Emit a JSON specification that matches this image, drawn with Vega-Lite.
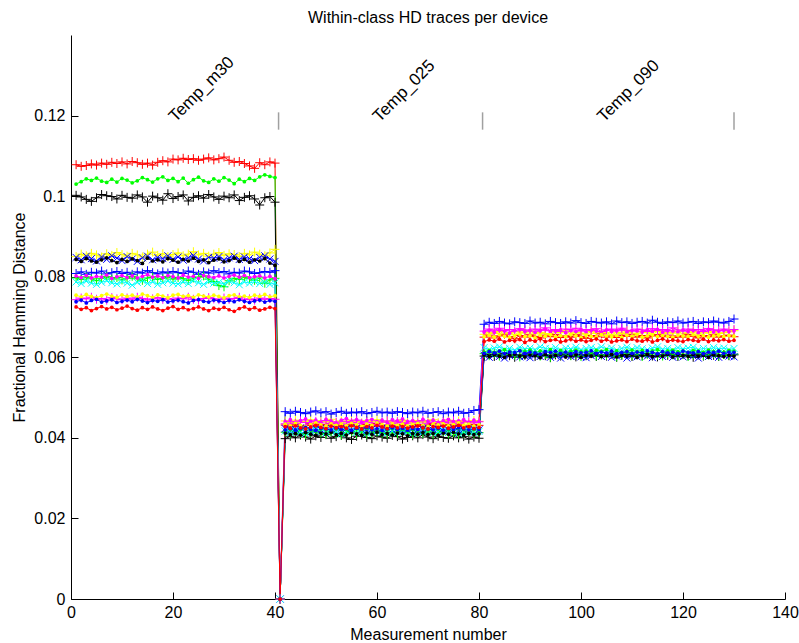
{
"$schema": "https://vega.github.io/schema/vega-lite/v6.json",
"width": 714, "height": 564,
"autosize": {"type": "none"},
"padding": {"left": 71, "top": 35, "right": 14, "bottom": 44},
"background": "white",
"config": {"font": "Liberation Sans", "view": {"stroke": null},
 "axis": {"grid": false, "tickSize": -7, "tickColor": "black", "domainColor": "black", "labelColor": "black", "labelFontSize": 16, "labelFont": "Liberation Sans", "labelFlush": false, "labelOverlap": false, "titleFontSize": 16, "titleFontWeight": "normal", "titleFont": "Liberation Sans", "titleColor": "black", "titleBaseline": "alphabetic", "titleAlign": "center"},
 "axisX": {"labelPadding": 12, "titleX": 357, "titleY": 40},
 "axisY": {"labelPadding": 13, "titleX": -47, "titleY": 282, "titleAngle": 270}},
"title": {"text": "Within-class HD traces per device", "fontSize": 16, "fontWeight": "normal", "font": "Liberation Sans", "color": "black", "anchor": "middle", "baseline": "alphabetic", "offset": -4},
"datasets": {
"hd": [
{"x":1,"a":0.1078,"b":0.1030,"c":0.1002,"d":0.0850,"e":0.0843,"f":0.0848,"g":0.0808,"h":0.0802,"i":0.0797,"j":0.0787,"k":0.0754,"l":0.0743,"m":0.0738,"n":0.0725},
{"x":2,"a":0.1074,"b":0.1036,"c":0.0998,"d":0.0856,"e":0.0838,"f":0.0842,"g":0.0812,"h":0.0798,"i":0.0793,"j":0.0783,"k":0.0750,"l":0.0747,"m":0.0742,"n":0.0719},
{"x":3,"a":0.1076,"b":0.1043,"c":0.0992,"d":0.0852,"e":0.0845,"f":0.0851,"g":0.0806,"h":0.0803,"i":0.0799,"j":0.0789,"k":0.0756,"l":0.0745,"m":0.0735,"n":0.0723},
{"x":4,"a":0.1080,"b":0.1039,"c":0.0987,"d":0.0858,"e":0.0839,"f":0.0845,"g":0.0811,"h":0.0797,"i":0.0795,"j":0.0784,"k":0.0751,"l":0.0749,"m":0.0741,"n":0.0716},
{"x":5,"a":0.1077,"b":0.1045,"c":0.0996,"d":0.0854,"e":0.0836,"f":0.0839,"g":0.0809,"h":0.0801,"i":0.0790,"j":0.0781,"k":0.0748,"l":0.0744,"m":0.0744,"n":0.0721},
{"x":6,"a":0.1082,"b":0.1037,"c":0.1004,"d":0.0849,"e":0.0842,"f":0.0849,"g":0.0814,"h":0.0799,"i":0.0796,"j":0.0786,"k":0.0753,"l":0.0746,"m":0.0737,"n":0.0726},
{"x":7,"a":0.1079,"b":0.1034,"c":0.1001,"d":0.0857,"e":0.0847,"f":0.0843,"g":0.0807,"h":0.0804,"i":0.0800,"j":0.0790,"k":0.0757,"l":0.0742,"m":0.0740,"n":0.0720},
{"x":8,"a":0.1084,"b":0.1042,"c":0.0999,"d":0.0853,"e":0.0840,"f":0.0852,"g":0.0810,"h":0.0796,"i":0.0794,"j":0.0785,"k":0.0752,"l":0.0748,"m":0.0743,"n":0.0724},
{"x":9,"a":0.1081,"b":0.1035,"c":0.0993,"d":0.0860,"e":0.0835,"f":0.0846,"g":0.0813,"h":0.0800,"i":0.0798,"j":0.0782,"k":0.0749,"l":0.0745,"m":0.0736,"n":0.0718},
{"x":10,"a":0.1085,"b":0.1044,"c":0.1002,"d":0.0855,"e":0.0843,"f":0.0840,"g":0.0808,"h":0.0803,"i":0.0792,"j":0.0788,"k":0.0755,"l":0.0743,"m":0.0739,"n":0.0722},
{"x":11,"a":0.1080,"b":0.1040,"c":0.0997,"d":0.0851,"e":0.0838,"f":0.0850,"g":0.0811,"h":0.0798,"i":0.0796,"j":0.0784,"k":0.0751,"l":0.0747,"m":0.0742,"n":0.0727},
{"x":12,"a":0.1086,"b":0.1033,"c":0.0995,"d":0.0858,"e":0.0844,"f":0.0844,"g":0.0806,"h":0.0802,"i":0.0801,"j":0.0779,"k":0.0754,"l":0.0744,"m":0.0738,"n":0.0721},
{"x":13,"a":0.1083,"b":0.1038,"c":0.1003,"d":0.0854,"e":0.0840,"f":0.0838,"g":0.0812,"h":0.0797,"i":0.0795,"j":0.0786,"k":0.0750,"l":0.0749,"m":0.0744,"n":0.0717},
{"x":14,"a":0.1079,"b":0.1046,"c":0.0998,"d":0.0849,"e":0.0833,"f":0.0847,"g":0.0809,"h":0.0801,"i":0.0791,"j":0.0790,"k":0.0757,"l":0.0746,"m":0.0740,"n":0.0723},
{"x":15,"a":0.1082,"b":0.1041,"c":0.0985,"d":0.0856,"e":0.0846,"f":0.0851,"g":0.0815,"h":0.0805,"i":0.0797,"j":0.0783,"k":0.0753,"l":0.0742,"m":0.0736,"n":0.0719},
{"x":16,"a":0.1077,"b":0.1035,"c":0.1000,"d":0.0861,"e":0.0839,"f":0.0842,"g":0.0810,"h":0.0799,"i":0.0799,"j":0.0787,"k":0.0749,"l":0.0745,"m":0.0741,"n":0.0725},
{"x":17,"a":0.1084,"b":0.1043,"c":0.0996,"d":0.0853,"e":0.0842,"f":0.0848,"g":0.0807,"h":0.0802,"i":0.0793,"j":0.0781,"k":0.0755,"l":0.0748,"m":0.0739,"n":0.0720},
{"x":18,"a":0.1088,"b":0.1048,"c":0.0990,"d":0.0857,"e":0.0837,"f":0.0845,"g":0.0812,"h":0.0798,"i":0.0796,"j":0.0785,"k":0.0752,"l":0.0744,"m":0.0743,"n":0.0716},
{"x":19,"a":0.1085,"b":0.1039,"c":0.1006,"d":0.0850,"e":0.0845,"f":0.0852,"g":0.0809,"h":0.0803,"i":0.0800,"j":0.0789,"k":0.0748,"l":0.0746,"m":0.0737,"n":0.0722},
{"x":20,"a":0.1092,"b":0.1044,"c":0.0994,"d":0.0855,"e":0.0841,"f":0.0843,"g":0.0813,"h":0.0800,"i":0.0794,"j":0.0784,"k":0.0754,"l":0.0743,"m":0.0740,"n":0.0726},
{"x":21,"a":0.1090,"b":0.1036,"c":0.0999,"d":0.0859,"e":0.0836,"f":0.0849,"g":0.0810,"h":0.0797,"i":0.0798,"j":0.0782,"k":0.0756,"l":0.0747,"m":0.0742,"n":0.0719},
{"x":22,"a":0.1094,"b":0.1045,"c":0.1003,"d":0.0852,"e":0.0843,"f":0.0841,"g":0.0808,"h":0.0804,"i":0.0795,"j":0.0787,"k":0.0751,"l":0.0745,"m":0.0738,"n":0.0723},
{"x":23,"a":0.1091,"b":0.1032,"c":0.0988,"d":0.0856,"e":0.0839,"f":0.0847,"g":0.0814,"h":0.0799,"i":0.0791,"j":0.0783,"k":0.0753,"l":0.0749,"m":0.0735,"n":0.0718},
{"x":24,"a":0.1093,"b":0.1041,"c":0.0997,"d":0.0862,"e":0.0846,"f":0.0853,"g":0.0811,"h":0.0801,"i":0.0797,"j":0.0790,"k":0.0749,"l":0.0744,"m":0.0741,"n":0.0721},
{"x":25,"a":0.1089,"b":0.1047,"c":0.1001,"d":0.0854,"e":0.0838,"f":0.0844,"g":0.0806,"h":0.0796,"i":0.0799,"j":0.0785,"k":0.0755,"l":0.0742,"m":0.0743,"n":0.0725},
{"x":26,"a":0.1092,"b":0.1038,"c":0.0995,"d":0.0858,"e":0.0842,"f":0.0839,"g":0.0812,"h":0.0803,"i":0.0802,"j":0.0781,"k":0.0752,"l":0.0746,"m":0.0739,"n":0.0720},
{"x":27,"a":0.1095,"b":0.1034,"c":0.1004,"d":0.0851,"e":0.0835,"f":0.0848,"g":0.0809,"h":0.0800,"i":0.0794,"j":0.0788,"k":0.0750,"l":0.0748,"m":0.0737,"n":0.0716},
{"x":28,"a":0.1090,"b":0.1043,"c":0.0998,"d":0.0856,"e":0.0841,"f":0.0846,"g":0.0815,"h":0.0798,"i":0.0788,"j":0.0784,"k":0.0754,"l":0.0745,"m":0.0742,"n":0.0722},
{"x":29,"a":0.1093,"b":0.1037,"c":0.0992,"d":0.0860,"e":0.0844,"f":0.0850,"g":0.0810,"h":0.0802,"i":0.0778,"j":0.0786,"k":0.0751,"l":0.0743,"m":0.0740,"n":0.0719},
{"x":30,"a":0.1097,"b":0.1046,"c":0.1000,"d":0.0853,"e":0.0837,"f":0.0842,"g":0.0813,"h":0.0797,"i":0.0775,"j":0.0782,"k":0.0748,"l":0.0747,"m":0.0736,"n":0.0724},
{"x":31,"a":0.1089,"b":0.1040,"c":0.0996,"d":0.0857,"e":0.0840,"f":0.0847,"g":0.0807,"h":0.0801,"i":0.0790,"j":0.0789,"k":0.0753,"l":0.0744,"m":0.0741,"n":0.0718},
{"x":32,"a":0.1084,"b":0.1031,"c":0.1003,"d":0.0855,"e":0.0846,"f":0.0851,"g":0.0811,"h":0.0804,"i":0.0796,"j":0.0785,"k":0.0755,"l":0.0746,"m":0.0738,"n":0.0714},
{"x":33,"a":0.1086,"b":0.1042,"c":0.0989,"d":0.0850,"e":0.0838,"f":0.0843,"g":0.0809,"h":0.0799,"i":0.0793,"j":0.0780,"k":0.0750,"l":0.0749,"m":0.0743,"n":0.0721},
{"x":34,"a":0.1081,"b":0.1036,"c":0.0997,"d":0.0858,"e":0.0843,"f":0.0849,"g":0.0814,"h":0.0803,"i":0.0799,"j":0.0787,"k":0.0752,"l":0.0743,"m":0.0739,"n":0.0725},
{"x":35,"a":0.1075,"b":0.1044,"c":0.1001,"d":0.0854,"e":0.0836,"f":0.0845,"g":0.0812,"h":0.0798,"i":0.0795,"j":0.0784,"k":0.0749,"l":0.0745,"m":0.0736,"n":0.0719},
{"x":36,"a":0.1069,"b":0.1039,"c":0.0993,"d":0.0861,"e":0.0842,"f":0.0840,"g":0.0808,"h":0.0800,"i":0.0791,"j":0.0788,"k":0.0754,"l":0.0742,"m":0.0740,"n":0.0723},
{"x":37,"a":0.1083,"b":0.1048,"c":0.0978,"d":0.0856,"e":0.0839,"f":0.0848,"g":0.0810,"h":0.0802,"i":0.0797,"j":0.0783,"k":0.0751,"l":0.0747,"m":0.0742,"n":0.0717},
{"x":38,"a":0.1078,"b":0.1053,"c":0.0996,"d":0.0852,"e":0.0845,"f":0.0852,"g":0.0813,"h":0.0797,"i":0.0784,"j":0.0786,"k":0.0756,"l":0.0744,"m":0.0737,"n":0.0720},
{"x":39,"a":0.1085,"b":0.1049,"c":0.0999,"d":0.0859,"e":0.0834,"f":0.0844,"g":0.0811,"h":0.0801,"i":0.0792,"j":0.0781,"k":0.0750,"l":0.0746,"m":0.0741,"n":0.0724},
{"x":40,"a":0.1082,"b":0.1046,"c":0.0985,"d":0.0868,"e":0.0828,"f":0.0838,"g":0.0815,"h":0.0795,"i":0.0796,"j":0.0785,"k":0.0753,"l":0.0744,"m":0.0739,"n":0.0721},
{"x":41,"a":0,"b":0,"c":0,"d":0,"e":0,"f":0,"g":0,"h":0,"i":0,"j":0,"k":0,"l":0,"m":0,"n":0},
{"x":42,"a":0.0432,"b":0.0418,"c":0.0398,"d":0.0442,"e":0.0412,"f":0.0423,"g":0.0465,"h":0.0440,"i":0.0414,"j":0.0417,"k":0.0434,"l":0.0435,"m":0.0420,"n":0.0428},
{"x":43,"a":0.0428,"b":0.0422,"c":0.0404,"d":0.0438,"e":0.0408,"f":0.0418,"g":0.0461,"h":0.0445,"i":0.0410,"j":0.0413,"k":0.0430,"l":0.0440,"m":0.0424,"n":0.0424},
{"x":44,"a":0.0434,"b":0.0417,"c":0.0400,"d":0.0444,"e":0.0411,"f":0.0421,"g":0.0466,"h":0.0438,"i":0.0416,"j":0.0419,"k":0.0436,"l":0.0436,"m":0.0419,"n":0.0430},
{"x":45,"a":0.0429,"b":0.0421,"c":0.0407,"d":0.0439,"e":0.0407,"f":0.0425,"g":0.0463,"h":0.0443,"i":0.0411,"j":0.0414,"k":0.0431,"l":0.0442,"m":0.0423,"n":0.0425},
{"x":46,"a":0.0431,"b":0.0424,"c":0.0402,"d":0.0441,"e":0.0413,"f":0.0419,"g":0.0460,"h":0.0447,"i":0.0408,"j":0.0411,"k":0.0428,"l":0.0438,"m":0.0426,"n":0.0422},
{"x":47,"a":0.0435,"b":0.0419,"c":0.0397,"d":0.0445,"e":0.0409,"f":0.0416,"g":0.0464,"h":0.0441,"i":0.0413,"j":0.0416,"k":0.0433,"l":0.0434,"m":0.0421,"n":0.0427},
{"x":48,"a":0.0427,"b":0.0416,"c":0.0405,"d":0.0437,"e":0.0406,"f":0.0422,"g":0.0467,"h":0.0444,"i":0.0417,"j":0.0420,"k":0.0437,"l":0.0441,"m":0.0418,"n":0.0431},
{"x":49,"a":0.0433,"b":0.0422,"c":0.0401,"d":0.0443,"e":0.0412,"f":0.0420,"g":0.0462,"h":0.0439,"i":0.0412,"j":0.0415,"k":0.0432,"l":0.0437,"m":0.0424,"n":0.0426},
{"x":50,"a":0.0430,"b":0.0420,"c":0.0408,"d":0.0440,"e":0.0410,"f":0.0424,"g":0.0465,"h":0.0446,"i":0.0409,"j":0.0412,"k":0.0429,"l":0.0443,"m":0.0422,"n":0.0423},
{"x":51,"a":0.0436,"b":0.0418,"c":0.0399,"d":0.0446,"e":0.0414,"f":0.0418,"g":0.0459,"h":0.0442,"i":0.0415,"j":0.0418,"k":0.0435,"l":0.0436,"m":0.0420,"n":0.0429},
{"x":52,"a":0.0429,"b":0.0423,"c":0.0403,"d":0.0438,"e":0.0408,"f":0.0421,"g":0.0463,"h":0.0437,"i":0.0411,"j":0.0414,"k":0.0431,"l":0.0439,"m":0.0425,"n":0.0425},
{"x":53,"a":0.0432,"b":0.0419,"c":0.0406,"d":0.0442,"e":0.0411,"f":0.0417,"g":0.0466,"h":0.0444,"i":0.0407,"j":0.0410,"k":0.0434,"l":0.0435,"m":0.0421,"n":0.0428},
{"x":54,"a":0.0428,"b":0.0421,"c":0.0400,"d":0.0439,"e":0.0407,"f":0.0423,"g":0.0461,"h":0.0448,"i":0.0413,"j":0.0416,"k":0.0430,"l":0.0441,"m":0.0423,"n":0.0424},
{"x":55,"a":0.0434,"b":0.0417,"c":0.0396,"d":0.0444,"e":0.0413,"f":0.0419,"g":0.0464,"h":0.0441,"i":0.0416,"j":0.0419,"k":0.0436,"l":0.0438,"m":0.0419,"n":0.0430},
{"x":56,"a":0.0431,"b":0.0422,"c":0.0404,"d":0.0441,"e":0.0410,"f":0.0425,"g":0.0462,"h":0.0445,"i":0.0410,"j":0.0413,"k":0.0432,"l":0.0444,"m":0.0424,"n":0.0426},
{"x":57,"a":0.0427,"b":0.0420,"c":0.0407,"d":0.0437,"e":0.0406,"f":0.0420,"g":0.0465,"h":0.0439,"i":0.0414,"j":0.0417,"k":0.0428,"l":0.0436,"m":0.0422,"n":0.0422},
{"x":58,"a":0.0433,"b":0.0424,"c":0.0401,"d":0.0443,"e":0.0412,"f":0.0418,"g":0.0460,"h":0.0443,"i":0.0408,"j":0.0411,"k":0.0434,"l":0.0440,"m":0.0426,"n":0.0428},
{"x":59,"a":0.0430,"b":0.0418,"c":0.0398,"d":0.0440,"e":0.0409,"f":0.0422,"g":0.0463,"h":0.0446,"i":0.0412,"j":0.0415,"k":0.0431,"l":0.0437,"m":0.0420,"n":0.0425},
{"x":60,"a":0.0435,"b":0.0421,"c":0.0405,"d":0.0445,"e":0.0414,"f":0.0416,"g":0.0466,"h":0.0440,"i":0.0415,"j":0.0418,"k":0.0437,"l":0.0433,"m":0.0423,"n":0.0431},
{"x":61,"a":0.0429,"b":0.0416,"c":0.0402,"d":0.0438,"e":0.0408,"f":0.0421,"g":0.0462,"h":0.0444,"i":0.0411,"j":0.0414,"k":0.0433,"l":0.0439,"m":0.0418,"n":0.0427},
{"x":62,"a":0.0432,"b":0.0420,"c":0.0399,"d":0.0442,"e":0.0411,"f":0.0424,"g":0.0464,"h":0.0438,"i":0.0409,"j":0.0412,"k":0.0429,"l":0.0442,"m":0.0422,"n":0.0423},
{"x":63,"a":0.0428,"b":0.0423,"c":0.0406,"d":0.0439,"e":0.0407,"f":0.0419,"g":0.0461,"h":0.0445,"i":0.0414,"j":0.0417,"k":0.0435,"l":0.0436,"m":0.0425,"n":0.0429},
{"x":64,"a":0.0431,"b":0.0419,"c":0.0403,"d":0.0441,"e":0.0412,"f":0.0422,"g":0.0465,"h":0.0442,"i":0.0410,"j":0.0413,"k":0.0431,"l":0.0440,"m":0.0421,"n":0.0425},
{"x":65,"a":0.0434,"b":0.0422,"c":0.0397,"d":0.0444,"e":0.0410,"f":0.0417,"g":0.0463,"h":0.0447,"i":0.0417,"j":0.0419,"k":0.0434,"l":0.0438,"m":0.0424,"n":0.0428},
{"x":66,"a":0.0430,"b":0.0417,"c":0.0401,"d":0.0440,"e":0.0405,"f":0.0420,"g":0.0460,"h":0.0440,"i":0.0412,"j":0.0415,"k":0.0430,"l":0.0435,"m":0.0419,"n":0.0424},
{"x":67,"a":0.0427,"b":0.0421,"c":0.0405,"d":0.0437,"e":0.0411,"f":0.0423,"g":0.0464,"h":0.0443,"i":0.0408,"j":0.0411,"k":0.0433,"l":0.0441,"m":0.0423,"n":0.0427},
{"x":68,"a":0.0433,"b":0.0419,"c":0.0400,"d":0.0443,"e":0.0409,"f":0.0418,"g":0.0462,"h":0.0439,"i":0.0413,"j":0.0416,"k":0.0436,"l":0.0437,"m":0.0421,"n":0.0430},
{"x":69,"a":0.0429,"b":0.0424,"c":0.0408,"d":0.0439,"e":0.0413,"f":0.0421,"g":0.0466,"h":0.0446,"i":0.0411,"j":0.0414,"k":0.0431,"l":0.0443,"m":0.0426,"n":0.0425},
{"x":70,"a":0.0432,"b":0.0420,"c":0.0402,"d":0.0442,"e":0.0408,"f":0.0425,"g":0.0461,"h":0.0441,"i":0.0415,"j":0.0418,"k":0.0428,"l":0.0436,"m":0.0422,"n":0.0422},
{"x":71,"a":0.0435,"b":0.0418,"c":0.0398,"d":0.0445,"e":0.0411,"f":0.0419,"g":0.0463,"h":0.0444,"i":0.0409,"j":0.0412,"k":0.0434,"l":0.0439,"m":0.0420,"n":0.0428},
{"x":72,"a":0.0428,"b":0.0422,"c":0.0404,"d":0.0438,"e":0.0406,"f":0.0422,"g":0.0465,"h":0.0438,"i":0.0412,"j":0.0415,"k":0.0432,"l":0.0434,"m":0.0424,"n":0.0426},
{"x":73,"a":0.0431,"b":0.0417,"c":0.0401,"d":0.0441,"e":0.0412,"f":0.0416,"g":0.0460,"h":0.0443,"i":0.0416,"j":0.0419,"k":0.0435,"l":0.0440,"m":0.0419,"n":0.0429},
{"x":74,"a":0.0434,"b":0.0421,"c":0.0399,"d":0.0444,"e":0.0409,"f":0.0420,"g":0.0464,"h":0.0446,"i":0.0410,"j":0.0413,"k":0.0430,"l":0.0438,"m":0.0423,"n":0.0424},
{"x":75,"a":0.0429,"b":0.0419,"c":0.0405,"d":0.0439,"e":0.0414,"f":0.0424,"g":0.0462,"h":0.0440,"i":0.0413,"j":0.0416,"k":0.0433,"l":0.0442,"m":0.0421,"n":0.0427},
{"x":76,"a":0.0432,"b":0.0423,"c":0.0400,"d":0.0442,"e":0.0410,"f":0.0418,"g":0.0466,"h":0.0442,"i":0.0408,"j":0.0411,"k":0.0437,"l":0.0436,"m":0.0425,"n":0.0431},
{"x":77,"a":0.0430,"b":0.0420,"c":0.0403,"d":0.0440,"e":0.0407,"f":0.0421,"g":0.0461,"h":0.0445,"i":0.0412,"j":0.0415,"k":0.0431,"l":0.0439,"m":0.0422,"n":0.0425},
{"x":78,"a":0.0427,"b":0.0418,"c":0.0397,"d":0.0437,"e":0.0411,"f":0.0419,"g":0.0463,"h":0.0439,"i":0.0415,"j":0.0418,"k":0.0434,"l":0.0441,"m":0.0420,"n":0.0428},
{"x":79,"a":0.0433,"b":0.0421,"c":0.0402,"d":0.0443,"e":0.0408,"f":0.0423,"g":0.0468,"h":0.0444,"i":0.0410,"j":0.0413,"k":0.0429,"l":0.0437,"m":0.0423,"n":0.0423},
{"x":80,"a":0.0431,"b":0.0419,"c":0.0399,"d":0.0441,"e":0.0410,"f":0.0420,"g":0.0470,"h":0.0441,"i":0.0413,"j":0.0416,"k":0.0432,"l":0.0440,"m":0.0421,"n":0.0426},
{"x":81,"a":0.0650,"b":0.0613,"c":0.0603,"d":0.0657,"e":0.0606,"f":0.0605,"g":0.0682,"h":0.0663,"i":0.0609,"j":0.0624,"k":0.0651,"l":0.0665,"m":0.0610,"n":0.0639},
{"x":82,"a":0.0655,"b":0.0617,"c":0.0607,"d":0.0662,"e":0.0602,"f":0.0600,"g":0.0687,"h":0.0667,"i":0.0604,"j":0.0619,"k":0.0655,"l":0.0670,"m":0.0614,"n":0.0643},
{"x":83,"a":0.0648,"b":0.0612,"c":0.0602,"d":0.0659,"e":0.0607,"f":0.0606,"g":0.0684,"h":0.0662,"i":0.0610,"j":0.0623,"k":0.0650,"l":0.0667,"m":0.0611,"n":0.0640},
{"x":84,"a":0.0653,"b":0.0616,"c":0.0606,"d":0.0664,"e":0.0603,"f":0.0602,"g":0.0689,"h":0.0668,"i":0.0603,"j":0.0626,"k":0.0656,"l":0.0672,"m":0.0615,"n":0.0645},
{"x":85,"a":0.0657,"b":0.0619,"c":0.0609,"d":0.0658,"e":0.0600,"f":0.0598,"g":0.0685,"h":0.0665,"i":0.0607,"j":0.0620,"k":0.0652,"l":0.0666,"m":0.0609,"n":0.0638},
{"x":86,"a":0.0651,"b":0.0614,"c":0.0604,"d":0.0661,"e":0.0605,"f":0.0604,"g":0.0683,"h":0.0660,"i":0.0612,"j":0.0622,"k":0.0649,"l":0.0669,"m":0.0613,"n":0.0642},
{"x":87,"a":0.0646,"b":0.0611,"c":0.0600,"d":0.0656,"e":0.0608,"f":0.0607,"g":0.0688,"h":0.0666,"i":0.0605,"j":0.0618,"k":0.0654,"l":0.0664,"m":0.0612,"n":0.0641},
{"x":88,"a":0.0654,"b":0.0617,"c":0.0606,"d":0.0663,"e":0.0603,"f":0.0601,"g":0.0686,"h":0.0669,"i":0.0601,"j":0.0625,"k":0.0657,"l":0.0671,"m":0.0616,"n":0.0644},
{"x":89,"a":0.0650,"b":0.0615,"c":0.0605,"d":0.0660,"e":0.0601,"f":0.0603,"g":0.0684,"h":0.0664,"i":0.0608,"j":0.0621,"k":0.0651,"l":0.0668,"m":0.0610,"n":0.0637},
{"x":90,"a":0.0656,"b":0.0618,"c":0.0608,"d":0.0665,"e":0.0606,"f":0.0599,"g":0.0690,"h":0.0667,"i":0.0606,"j":0.0623,"k":0.0653,"l":0.0665,"m":0.0613,"n":0.0643},
{"x":91,"a":0.0652,"b":0.0612,"c":0.0602,"d":0.0658,"e":0.0604,"f":0.0605,"g":0.0685,"h":0.0662,"i":0.0610,"j":0.0619,"k":0.0648,"l":0.0670,"m":0.0611,"n":0.0640},
{"x":92,"a":0.0648,"b":0.0616,"c":0.0607,"d":0.0662,"e":0.0599,"f":0.0602,"g":0.0687,"h":0.0666,"i":0.0603,"j":0.0626,"k":0.0655,"l":0.0667,"m":0.0608,"n":0.0646},
{"x":93,"a":0.0655,"b":0.0614,"c":0.0604,"d":0.0659,"e":0.0607,"f":0.0607,"g":0.0683,"h":0.0670,"i":0.0607,"j":0.0622,"k":0.0652,"l":0.0673,"m":0.0614,"n":0.0639},
{"x":94,"a":0.0651,"b":0.0619,"c":0.0599,"d":0.0656,"e":0.0602,"f":0.0600,"g":0.0689,"h":0.0663,"i":0.0600,"j":0.0620,"k":0.0656,"l":0.0666,"m":0.0612,"n":0.0642},
{"x":95,"a":0.0657,"b":0.0613,"c":0.0606,"d":0.0663,"e":0.0605,"f":0.0604,"g":0.0686,"h":0.0665,"i":0.0609,"j":0.0624,"k":0.0650,"l":0.0669,"m":0.0615,"n":0.0644},
{"x":96,"a":0.0649,"b":0.0617,"c":0.0603,"d":0.0661,"e":0.0608,"f":0.0598,"g":0.0684,"h":0.0668,"i":0.0605,"j":0.0618,"k":0.0654,"l":0.0664,"m":0.0610,"n":0.0638},
{"x":97,"a":0.0653,"b":0.0611,"c":0.0608,"d":0.0666,"e":0.0601,"f":0.0606,"g":0.0688,"h":0.0661,"i":0.0611,"j":0.0623,"k":0.0651,"l":0.0670,"m":0.0613,"n":0.0641},
{"x":98,"a":0.0650,"b":0.0615,"c":0.0605,"d":0.0658,"e":0.0604,"f":0.0602,"g":0.0685,"h":0.0666,"i":0.0604,"j":0.0621,"k":0.0657,"l":0.0668,"m":0.0609,"n":0.0645},
{"x":99,"a":0.0656,"b":0.0618,"c":0.0601,"d":0.0662,"e":0.0606,"f":0.0605,"g":0.0691,"h":0.0664,"i":0.0608,"j":0.0625,"k":0.0653,"l":0.0672,"m":0.0614,"n":0.0640},
{"x":100,"a":0.0652,"b":0.0614,"c":0.0607,"d":0.0660,"e":0.0600,"f":0.0601,"g":0.0686,"h":0.0669,"i":0.0602,"j":0.0619,"k":0.0649,"l":0.0665,"m":0.0611,"n":0.0643},
{"x":101,"a":0.0647,"b":0.0616,"c":0.0604,"d":0.0657,"e":0.0605,"f":0.0599,"g":0.0684,"h":0.0663,"i":0.0606,"j":0.0622,"k":0.0655,"l":0.0669,"m":0.0612,"n":0.0639},
{"x":102,"a":0.0654,"b":0.0612,"c":0.0609,"d":0.0664,"e":0.0603,"f":0.0604,"g":0.0689,"h":0.0667,"i":0.0610,"j":0.0624,"k":0.0652,"l":0.0667,"m":0.0616,"n":0.0642},
{"x":103,"a":0.0651,"b":0.0617,"c":0.0602,"d":0.0659,"e":0.0608,"f":0.0607,"g":0.0687,"h":0.0665,"i":0.0603,"j":0.0620,"k":0.0650,"l":0.0671,"m":0.0610,"n":0.0646},
{"x":104,"a":0.0658,"b":0.0615,"c":0.0606,"d":0.0663,"e":0.0602,"f":0.0602,"g":0.0685,"h":0.0661,"i":0.0607,"j":0.0626,"k":0.0656,"l":0.0664,"m":0.0613,"n":0.0640},
{"x":105,"a":0.0650,"b":0.0619,"c":0.0603,"d":0.0661,"e":0.0604,"f":0.0605,"g":0.0688,"h":0.0668,"i":0.0605,"j":0.0621,"k":0.0653,"l":0.0668,"m":0.0611,"n":0.0644},
{"x":106,"a":0.0653,"b":0.0613,"c":0.0608,"d":0.0656,"e":0.0607,"f":0.0600,"g":0.0683,"h":0.0664,"i":0.0609,"j":0.0623,"k":0.0651,"l":0.0670,"m":0.0615,"n":0.0638},
{"x":107,"a":0.0649,"b":0.0616,"c":0.0600,"d":0.0662,"e":0.0601,"f":0.0603,"g":0.0690,"h":0.0666,"i":0.0601,"j":0.0618,"k":0.0654,"l":0.0666,"m":0.0609,"n":0.0641},
{"x":108,"a":0.0655,"b":0.0611,"c":0.0605,"d":0.0659,"e":0.0605,"f":0.0606,"g":0.0686,"h":0.0670,"i":0.0606,"j":0.0622,"k":0.0649,"l":0.0672,"m":0.0612,"n":0.0643},
{"x":109,"a":0.0652,"b":0.0615,"c":0.0607,"d":0.0665,"e":0.0603,"f":0.0598,"g":0.0688,"h":0.0662,"i":0.0611,"j":0.0625,"k":0.0655,"l":0.0667,"m":0.0614,"n":0.0639},
{"x":110,"a":0.0657,"b":0.0618,"c":0.0602,"d":0.0660,"e":0.0606,"f":0.0604,"g":0.0684,"h":0.0667,"i":0.0604,"j":0.0620,"k":0.0652,"l":0.0665,"m":0.0610,"n":0.0645},
{"x":111,"a":0.0650,"b":0.0614,"c":0.0606,"d":0.0658,"e":0.0600,"f":0.0601,"g":0.0687,"h":0.0665,"i":0.0608,"j":0.0624,"k":0.0657,"l":0.0670,"m":0.0613,"n":0.0641},
{"x":112,"a":0.0654,"b":0.0617,"c":0.0604,"d":0.0663,"e":0.0604,"f":0.0607,"g":0.0689,"h":0.0663,"i":0.0602,"j":0.0621,"k":0.0650,"l":0.0668,"m":0.0611,"n":0.0640},
{"x":113,"a":0.0648,"b":0.0612,"c":0.0609,"d":0.0661,"e":0.0607,"f":0.0603,"g":0.0685,"h":0.0668,"i":0.0607,"j":0.0619,"k":0.0653,"l":0.0664,"m":0.0616,"n":0.0644},
{"x":114,"a":0.0653,"b":0.0616,"c":0.0603,"d":0.0657,"e":0.0602,"f":0.0599,"g":0.0692,"h":0.0664,"i":0.0610,"j":0.0623,"k":0.0656,"l":0.0671,"m":0.0612,"n":0.0638},
{"x":115,"a":0.0656,"b":0.0619,"c":0.0601,"d":0.0664,"e":0.0605,"f":0.0605,"g":0.0687,"h":0.0669,"i":0.0605,"j":0.0626,"k":0.0651,"l":0.0667,"m":0.0609,"n":0.0642},
{"x":116,"a":0.0651,"b":0.0613,"c":0.0606,"d":0.0659,"e":0.0603,"f":0.0602,"g":0.0684,"h":0.0662,"i":0.0603,"j":0.0620,"k":0.0654,"l":0.0669,"m":0.0614,"n":0.0646},
{"x":117,"a":0.0655,"b":0.0615,"c":0.0605,"d":0.0662,"e":0.0608,"f":0.0606,"g":0.0688,"h":0.0666,"i":0.0609,"j":0.0622,"k":0.0652,"l":0.0666,"m":0.0611,"n":0.0640},
{"x":118,"a":0.0649,"b":0.0618,"c":0.0608,"d":0.0660,"e":0.0601,"f":0.0600,"g":0.0686,"h":0.0665,"i":0.0606,"j":0.0618,"k":0.0649,"l":0.0673,"m":0.0613,"n":0.0643},
{"x":119,"a":0.0653,"b":0.0614,"c":0.0602,"d":0.0665,"e":0.0606,"f":0.0604,"g":0.0690,"h":0.0663,"i":0.0604,"j":0.0624,"k":0.0655,"l":0.0668,"m":0.0610,"n":0.0641},
{"x":120,"a":0.0650,"b":0.0616,"c":0.0607,"d":0.0658,"e":0.0604,"f":0.0601,"g":0.0685,"h":0.0668,"i":0.0608,"j":0.0621,"k":0.0653,"l":0.0665,"m":0.0615,"n":0.0639},
{"x":121,"a":0.0657,"b":0.0612,"c":0.0604,"d":0.0661,"e":0.0602,"f":0.0607,"g":0.0687,"h":0.0664,"i":0.0602,"j":0.0623,"k":0.0651,"l":0.0670,"m":0.0612,"n":0.0644},
{"x":122,"a":0.0652,"b":0.0617,"c":0.0600,"d":0.0663,"e":0.0607,"f":0.0603,"g":0.0689,"h":0.0667,"i":0.0607,"j":0.0625,"k":0.0656,"l":0.0667,"m":0.0611,"n":0.0642},
{"x":123,"a":0.0648,"b":0.0615,"c":0.0606,"d":0.0657,"e":0.0603,"f":0.0598,"g":0.0684,"h":0.0661,"i":0.0610,"j":0.0619,"k":0.0652,"l":0.0669,"m":0.0614,"n":0.0640},
{"x":124,"a":0.0654,"b":0.0613,"c":0.0603,"d":0.0662,"e":0.0605,"f":0.0605,"g":0.0688,"h":0.0666,"i":0.0604,"j":0.0622,"k":0.0654,"l":0.0664,"m":0.0609,"n":0.0645},
{"x":125,"a":0.0651,"b":0.0618,"c":0.0608,"d":0.0660,"e":0.0600,"f":0.0602,"g":0.0686,"h":0.0669,"i":0.0606,"j":0.0620,"k":0.0650,"l":0.0671,"m":0.0613,"n":0.0639},
{"x":126,"a":0.0656,"b":0.0614,"c":0.0605,"d":0.0664,"e":0.0606,"f":0.0604,"g":0.0690,"h":0.0663,"i":0.0609,"j":0.0624,"k":0.0653,"l":0.0668,"m":0.0612,"n":0.0643},
{"x":127,"a":0.0650,"b":0.0616,"c":0.0602,"d":0.0659,"e":0.0604,"f":0.0600,"g":0.0687,"h":0.0665,"i":0.0603,"j":0.0621,"k":0.0655,"l":0.0666,"m":0.0615,"n":0.0641},
{"x":128,"a":0.0653,"b":0.0612,"c":0.0607,"d":0.0661,"e":0.0602,"f":0.0606,"g":0.0685,"h":0.0667,"i":0.0607,"j":0.0623,"k":0.0651,"l":0.0670,"m":0.0610,"n":0.0644},
{"x":129,"a":0.0655,"b":0.0617,"c":0.0604,"d":0.0663,"e":0.0605,"f":0.0603,"g":0.0689,"h":0.0664,"i":0.0605,"j":0.0619,"k":0.0654,"l":0.0667,"m":0.0613,"n":0.0640},
{"x":130,"a":0.0651,"b":0.0615,"c":0.0606,"d":0.0666,"e":0.0603,"f":0.0601,"g":0.0695,"h":0.0666,"i":0.0608,"j":0.0622,"k":0.0652,"l":0.0669,"m":0.0612,"n":0.0642}
],
"bounds": [{"x": 40.7}, {"x": 80.7}, {"x": 130}],
"conds": [{"cond": "Temp_m30", "x": 20.5}, {"cond": "Temp_025", "x": 60.5}, {"cond": "Temp_090", "x": 104.5}]
},
"layer": [
{
"data": {"name": "hd"},
"transform": [{"fold": ["a", "b", "c", "d", "e", "f", "g", "h", "i", "j", "k", "l", "m", "n"], "as": ["dev", "hd"]}],
"encoding": {
 "x": {"field": "x", "type": "quantitative", "title": "Measurement number", "scale": {"domain": [0, 140], "nice": false, "zero": false},
  "axis": {"values": [0, 20, 40, 60, 80, 100, 120, 140]}},
 "y": {"field": "hd", "type": "quantitative", "title": "Fractional Hamming Distance", "scale": {"domain": [0, 0.14], "nice": false},
  "axis": {"values": [0, 0.02, 0.04, 0.06, 0.08, 0.1, 0.12], "format": ".2~f"}},
 "color": {"field": "dev", "type": "nominal", "legend": null,
  "scale": {"domain": ["a", "b", "c", "d", "e", "f", "g", "h", "i", "j", "k", "l", "m", "n"],
   "range": ["#ff0000", "#00ff00", "#000000", "#ffff00", "#000000", "#0000ff", "#0000ff", "#ff00ff", "#00ff00", "#00ffff", "#ffff00", "#ff00ff", "#0000ff", "#ff0000"]}}
},
"layer": [
 {"mark": {"type": "line", "strokeWidth": 1}},
 {"transform": [{"filter": {"field": "dev", "oneOf": ["a", "c", "d", "g", "i", "l"]}}],
  "mark": {"type": "point", "shape": "M-1,0L1,0M0,-1L0,1", "size": 81, "filled": false, "strokeWidth": 1, "opacity": 1}},
 {"transform": [{"filter": {"field": "dev", "oneOf": ["f", "j"]}}],
  "mark": {"type": "point", "shape": "M-1,-1L1,1M-1,1L1,-1", "size": 49, "filled": false, "strokeWidth": 1, "opacity": 1}},
 {"transform": [{"filter": {"field": "dev", "oneOf": ["b", "e", "h", "k", "m", "n"]}}],
  "mark": {"type": "point", "shape": "circle", "size": 14, "filled": true, "opacity": 1}}
]
},
{
"data": {"name": "bounds"},
"mark": {"type": "rule", "color": "#a0a0a0", "strokeWidth": 1.5},
"encoding": {
 "x": {"field": "x", "type": "quantitative", "title": "Measurement number", "axis": {"values": [0, 20, 40, 60, 80, 100, 120, 140]}},
 "y": {"datum": 0.1165, "title": "Fractional Hamming Distance", "axis": {"values": [0, 0.02, 0.04, 0.06, 0.08, 0.1, 0.12], "format": ".2~f"}},
 "y2": {"datum": 0.1208}
}
},
{
"data": {"name": "conds"},
"mark": {"type": "text", "angle": 315, "align": "left", "baseline": "alphabetic", "fontSize": 17, "font": "Liberation Sans", "color": "black"},
"encoding": {
 "x": {"field": "x", "type": "quantitative", "title": "Measurement number", "axis": {"values": [0, 20, 40, 60, 80, 100, 120, 140]}},
 "y": {"datum": 0.1182, "title": "Fractional Hamming Distance", "axis": {"values": [0, 0.02, 0.04, 0.06, 0.08, 0.1, 0.12], "format": ".2~f"}},
 "text": {"field": "cond", "type": "nominal"}
}
}
]
}
